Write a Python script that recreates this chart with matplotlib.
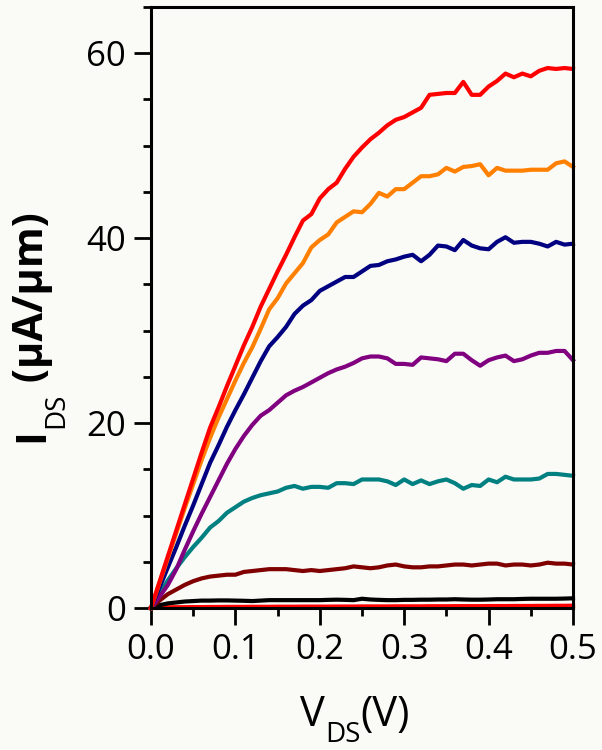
import numpy as np
import matplotlib
matplotlib.use("Agg")
import matplotlib.pyplot as plt
from matplotlib.ticker import MultipleLocator, FormatStrFormatter
from matplotlib.transforms import IdentityTransform

plt.rcParams['font.family'] = ['Open Sans', 'DejaVu Sans']

# V_DS sweep (V), step 0.01
vds = np.round(np.arange(0, 51) * 0.01, 2)

# I_DS (uA/um) curves, top to bottom
ids_red = [0, 2.8, 5.6, 8.4, 11.2, 14.0, 16.8, 19.5, 21.7, 24.0,
           26.2, 28.4, 30.4, 32.6, 34.5, 36.4, 38.2, 40.1, 41.9, 42.6,
           44.3, 45.3, 46.0, 47.5, 48.8, 49.8, 50.7, 51.4, 52.2, 52.8,
           53.1, 53.6, 54.1, 55.5, 55.6, 55.7, 55.7, 56.9, 55.5, 55.5,
           56.4, 57.0, 57.8, 57.4, 57.8, 57.5, 58.1, 58.4, 58.3, 58.4, 58.3]
ids_orange = [0, 2.7, 5.4, 8.1, 10.8, 13.4, 16.0, 18.4, 20.6, 22.6,
              24.6, 26.5, 28.2, 30.2, 32.3, 33.5, 35.1, 36.2, 37.3, 39.0,
              39.8, 40.4, 41.7, 42.3, 42.9, 42.8, 43.7, 44.9, 44.5, 45.3,
              45.3, 46.0, 46.7, 46.7, 46.9, 47.6, 47.2, 47.7, 47.8, 48.0,
              46.8, 47.6, 47.3, 47.3, 47.3, 47.4, 47.4, 47.4, 48.1, 48.3, 47.7]
ids_navy = [0, 2.2, 4.4, 6.6, 8.9, 11.1, 13.4, 15.7, 17.6, 19.6,
            21.4, 23.1, 24.9, 26.7, 28.3, 29.3, 30.4, 31.8, 32.7, 33.3,
            34.3, 34.8, 35.3, 35.8, 35.8, 36.4, 37.0, 37.1, 37.5, 37.7,
            38.0, 38.2, 37.5, 38.2, 39.2, 39.1, 38.7, 39.8, 39.2, 38.9,
            38.8, 39.6, 40.1, 39.5, 39.6, 39.6, 39.4, 39.1, 39.6, 39.3, 39.4]
ids_purple = [0, 1.2, 2.5, 4.2, 6.3, 8.3, 10.2, 12.0, 13.8, 15.6,
              17.2, 18.6, 19.8, 20.8, 21.4, 22.2, 23.0, 23.5, 23.9, 24.4,
              24.9, 25.4, 25.8, 26.1, 26.5, 27.0, 27.2, 27.2, 27.0, 26.4,
              26.4, 26.3, 27.1, 27.0, 26.9, 26.7, 27.5, 27.5, 26.8, 26.2,
              26.8, 27.1, 27.3, 26.7, 26.9, 27.3, 27.6, 27.6, 27.8, 27.8, 26.8]
ids_teal = [0, 1.5, 3.0, 4.3, 5.5, 6.6, 7.6, 8.7, 9.4, 10.3,
            10.9, 11.5, 11.9, 12.2, 12.4, 12.6, 13.0, 13.2, 12.9, 13.1,
            13.1, 13.0, 13.5, 13.5, 13.4, 13.9, 13.9, 13.9, 13.7, 13.3,
            13.9, 13.4, 13.8, 13.4, 13.7, 13.9, 13.5, 12.9, 13.3, 13.2,
            13.9, 13.6, 14.2, 13.9, 13.9, 13.9, 14.0, 14.5, 14.5, 14.4, 14.3]
ids_maroon = [0, 0.8, 1.5, 2.0, 2.5, 2.9, 3.2, 3.4, 3.5, 3.6,
              3.6, 3.9, 4.0, 4.1, 4.2, 4.2, 4.2, 4.1, 4.0, 4.1,
              4.0, 4.1, 4.2, 4.3, 4.5, 4.4, 4.3, 4.4, 4.6, 4.7,
              4.5, 4.4, 4.4, 4.5, 4.5, 4.6, 4.7, 4.7, 4.6, 4.7,
              4.8, 4.8, 4.6, 4.7, 4.7, 4.6, 4.7, 4.9, 4.8, 4.8, 4.7]
ids_black = [0, 0.3, 0.5, 0.6, 0.7, 0.75, 0.8, 0.8, 0.82, 0.82,
             0.8, 0.78, 0.75, 0.8, 0.85, 0.85, 0.85, 0.85, 0.85, 0.85,
             0.85, 0.88, 0.9, 0.88, 0.85, 1.0, 0.92, 0.88, 0.85, 0.85,
             0.88, 0.88, 0.9, 0.9, 0.92, 0.92, 0.95, 0.92, 0.9, 0.9,
             0.92, 0.95, 0.95, 0.95, 0.98, 1.0, 1.0, 1.0, 1.0, 1.02, 1.05]
ids_orange_low = [0, 0.01, 0.02, 0.03, 0.03, 0.04, 0.04, 0.05, 0.05, 0.05,
                  0.06, 0.06, 0.06, 0.07, 0.07, 0.07, 0.07, 0.08, 0.08, 0.08,
                  0.08, 0.08, 0.09, 0.09, 0.09, 0.09, 0.09, 0.1, 0.1, 0.1,
                  0.1, 0.1, 0.1, 0.11, 0.11, 0.11, 0.11, 0.11, 0.12, 0.12,
                  0.12, 0.12, 0.12, 0.13, 0.13, 0.13, 0.13, 0.14, 0.14, 0.15, 0.15]
ids_red_low = [0, 0.05, 0.07, 0.08, 0.09, 0.1, 0.1, 0.11, 0.11, 0.12,
               0.12, 0.12, 0.13, 0.13, 0.13, 0.14, 0.14, 0.14, 0.15, 0.15,
               0.15, 0.15, 0.16, 0.16, 0.16, 0.17, 0.17, 0.17, 0.17, 0.18,
               0.18, 0.18, 0.18, 0.19, 0.19, 0.19, 0.2, 0.2, 0.2, 0.2,
               0.21, 0.21, 0.21, 0.22, 0.22, 0.22, 0.23, 0.23, 0.24, 0.24, 0.25]

curves = [
    (ids_orange_low, '#ff8000'),
    (ids_red_low, '#ff0000'),
    (ids_black, '#000000'),
    (ids_maroon, '#800000'),
    (ids_teal, '#008080'),
    (ids_purple, '#800080'),
    (ids_navy, '#000080'),
    (ids_orange, '#ff8000'),
    (ids_red, '#ff0000'),
]

W, H = 602, 750
bg = '#fafaf7'
fig = plt.figure(figsize=(W / 100, H / 100), dpi=100, facecolor=bg)
ax = fig.add_axes([151 / W, 1 - 608 / H, 422 / W, 601 / H])
ax.set_facecolor(bg)

for ids, col in curves:
    ax.plot(vds, ids, color=col, lw=3, solid_joinstyle='round', clip_on=False)

ax.set_xlim(0, 0.5)
ax.set_ylim(0, 65)
ax.xaxis.set_major_locator(MultipleLocator(0.1))
ax.xaxis.set_minor_locator(MultipleLocator(0.05))
ax.yaxis.set_major_locator(MultipleLocator(20))
ax.yaxis.set_minor_locator(MultipleLocator(5))
ax.xaxis.set_major_formatter(FormatStrFormatter('%.1f'))

for s in ax.spines.values():
    s.set_linewidth(2.2)
ax.tick_params(which='major', direction='out', length=12, width=2, labelsize=25, pad=6)
ax.tick_params(which='minor', direction='out', length=6, width=2)
ax.tick_params(top=False, right=False, which='both')

# axis labels with a deep subscript, built from pieces (pixel coords, y from top)
renderer = fig.canvas.get_renderer()


def label(pieces, x0, y0, vertical=False):
    pos = 0.0
    for txt, size, drop, weight in pieces:
        if vertical:
            t = fig.text(x0 + drop, H - (y0 - pos), txt, fontsize=size, fontweight=weight,
                         rotation=90, rotation_mode='anchor', ha='left', va='baseline',
                         transform=IdentityTransform())
            pos += t.get_window_extent(renderer).height
        else:
            t = fig.text(x0 + pos, H - (y0 + drop), txt, fontsize=size, fontweight=weight,
                         ha='left', va='baseline', transform=IdentityTransform())
            pos += t.get_window_extent(renderer).width


label([('V', 30, 0, 'normal'), ('DS', 20, 16, 'normal'), ('(V)', 30, 0, 'normal')], 300, 726)
label([('I', 30, 0, 'bold'), ('DS', 20, 20, 'normal'), (' (µA/µm)', 30, 0, 'bold')],
      43, 442, vertical=True)

fig.savefig('out.png', dpi=100, facecolor=bg)
